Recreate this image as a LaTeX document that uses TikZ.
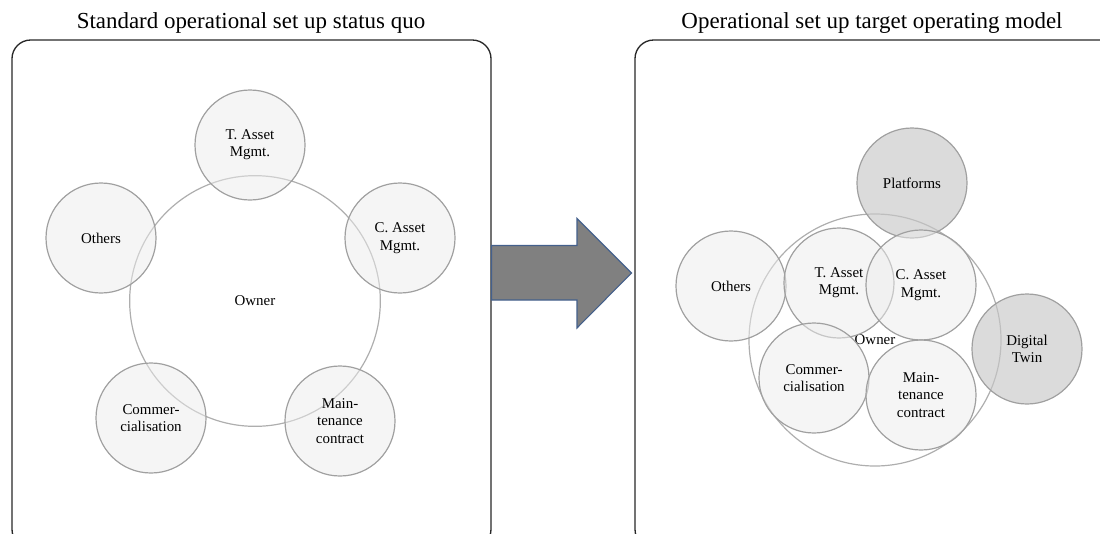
\documentclass[tikz,border=0pt]{standalone}
\usepackage{fontspec}
\setmainfont{Liberation Serif}
\usetikzlibrary{positioning}

\definecolor{ringline}{RGB}{160,160,160}
\definecolor{lightfill}{RGB}{236,236,236}
\definecolor{darkfill}{RGB}{200,200,200}
\definecolor{arrowline}{RGB}{68,96,140}

\tikzset{every picture/.style={line width=0.75pt}}
\tikzset{
  panel/.style={draw={rgb,255:red,40;green,40;blue,40}, line width=1pt, rounded corners=14},
  heading/.style={font=\fontsize{17.2}{20}\selectfont, inner sep=0pt},
  owner/.style={circle, draw=ringline!85, line width=0.9pt, minimum size=188pt, inner sep=0pt,
    font=\fontsize{11.2}{13}\selectfont},
  part/.style={circle, draw=ringline, line width=0.9pt, fill=lightfill, fill opacity=0.5,
    text opacity=1, minimum size=82.5pt, inner sep=0pt, align=center,
    font=\fontsize{11.2}{13}\selectfont},
  extra/.style={part, fill=darkfill, fill opacity=0.65},
}

\begin{document}
\begin{tikzpicture}[x=0.75pt,y=0.75pt,yscale=-1,xscale=1]
        \useasboundingbox (0,0) rectangle (1100,533);
        \clip (0,0) rectangle (1100,533);

        %Rounded Rect: status quo
        \draw [panel] (12,40) rectangle (491,548) ;
        %Rounded Rect: target model
        \draw [panel] (635,40) rectangle (1118,548) ;

        % Text Node
        \node [heading] (sqtitle) at (251,23) {Standard operational set up status quo};
        % Text Node
        \node [heading] (tomtitle) at (872,23) {Operational set up target operating model};

        %Shape: Circle - status quo
        \node [owner] (sqowner) at (255,301) {Owner};
        \node [part] (sqtam) at (250,145) {T. Asset\\Mgmt.};
        \node [part] (sqothers) at (101,238) {Others};
        \node [part] (sqcam) at (400,238) {C. Asset\\Mgmt.};
        \node [part] (sqcomm) at (151,418) {Commer-\\cialisation};
        \node [part] (sqmaint) at (340,421) {Main-\\tenance\\contract};

        %Shape: Right Arrow
        \draw [draw=arrowline, line width=0.8pt, fill={rgb,255:red,128;green,128;blue,128}]
          (491.5,245.5) -- (577,245.5) -- (577,218.5) -- (631.5,273) -- (577,328) -- (577,300) -- (491.5,300) -- cycle ;

        %Shape: Circle - target model
        \node [owner, minimum size=189pt] (tomowner) at (875,340) {Owner};
        \node [extra] (tomplat) at (912,183) {Platforms};
        \node [part] (tomothers) at (731,286) {Others};
        \node [part] (tomtam) at (839,283) {T. Asset\\Mgmt.};
        \node [part] (tomcam) at (921,285) {C. Asset\\Mgmt.};
        \node [part] (tomcomm) at (814,378) {Commer-\\cialisation};
        \node [part] (tommaint) at (921,395) {Main-\\tenance\\contract};
        \node [extra] (tomtwin) at (1027,349) {Digital\\Twin};

\end{tikzpicture}
\end{document}
